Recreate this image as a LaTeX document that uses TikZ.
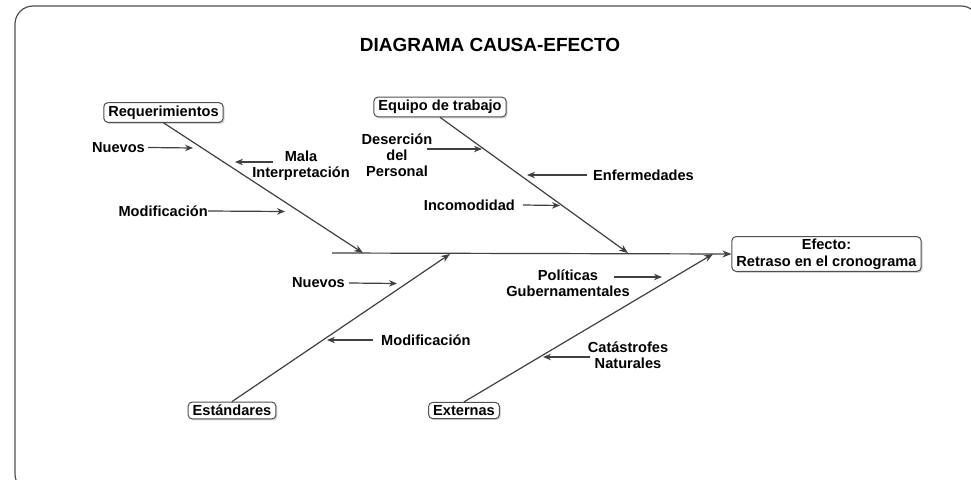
\documentclass[tikz,border=0pt]{standalone}
\usepackage{fontspec}
\setmainfont{Liberation Sans}
\usetikzlibrary{arrows.meta,shadows}
\definecolor{ln}{HTML}{404040}
\definecolor{bx}{HTML}{505050}
\tikzset{
  lbl/.style={font=\fontsize{14.6}{16}\selectfont\bfseries, inner sep=0pt, align=center},
  cat/.style={draw=bx, line width=1pt, rounded corners=4pt, fill=white,
    drop shadow={opacity=0.35, shadow xshift=1.5pt, shadow yshift=-1.5pt},
    font=\fontsize{14.6}{17}\selectfont\bfseries, inner xsep=4.5pt, inner ysep=3pt, align=center},
  bone/.style={draw=ln, line width=1.2pt, -{Stealth[length=9pt,width=7pt]}},
  sub/.style={draw=ln, line width=1.2pt, -{Stealth[length=8pt,width=6.5pt]}}
}
\begin{document}
\begin{tikzpicture}[x=1pt,y=-1pt]
\useasboundingbox (0,0) rectangle (971,479);
\begin{scope}
\clip (0,0) rectangle (971,479);
\draw[bx, line width=1.2pt, rounded corners=18pt] (15,6) rectangle (979,492);
\end{scope}

\node[font=\fontsize{19}{22}\selectfont\bfseries, inner sep=0pt] (title) at (490,45) {DIAGRAMA CAUSA-EFECTO};

% category boxes
\node[cat] (req) at (163.5,112.5) {Requerimientos};
\node[cat] (eq) at (440,107) {Equipo de trabajo};
\node[cat] (est) at (232,410.5) {Estándares};
\node[cat] (ext) at (464,410.5) {Externas};
\node[cat, inner ysep=2pt] (efe) at (826.5,254) {Efecto:\\Retraso en el cronograma};

% spine
\coordinate (sp0) at (332,253);
\draw[bone] (sp0) -- (efe.west);

% bones
\coordinate (b1) at (363,253);
\coordinate (b2) at (628,253);
\coordinate (b3) at (450,254);
\coordinate (b4) at (713,254);
\draw[bone] (req.south) -- (b1);
\draw[bone] (eq.south) -- (b2);
\draw[bone] (est.north) -- (b3);
\draw[bone] (ext.north) -- (b4);

% sub causes - Requerimientos
\node[lbl, anchor=east] (n1) at (145,147.5) {Nuevos};
\coordinate (n1t) at (193,148);
\draw[sub] ([xshift=3pt]n1.east) -- (n1t);

\node[lbl] (m1) at (301,166) {Mala\\Interpretación};
\coordinate (m1a) at (273,162);
\coordinate (m1t) at (235,162);
\draw[sub] (m1a) -- (m1t);

\node[lbl, anchor=east] (mod1) at (208,211) {Modificación};
\coordinate (mod1t) at (285,211.5);
\draw[sub] (mod1.east) -- (mod1t);

% Equipo de trabajo
\node[lbl] (d1) at (397,155) {Deserción\\del\\Personal};
\coordinate (d1a) at (427,149);
\coordinate (d1t) at (482,149);
\draw[sub] (d1a) -- (d1t);

\node[lbl, anchor=west] (e1) at (593,175) {Enfermedades};
\coordinate (e1t) at (527,175);
\draw[sub] ([xshift=-6pt]e1.west) -- (e1t);

\node[lbl, anchor=east] (i1) at (515,205) {Incomodidad};
\coordinate (i1t) at (560,205.5);
\draw[sub] ([xshift=8pt]i1.east) -- (i1t);

% Estándares
\node[lbl, anchor=east] (n2) at (345,283) {Nuevos};
\coordinate (n2t) at (397,283.5);
\draw[sub] ([xshift=4pt]n2.east) -- (n2t);

\node[lbl, anchor=west] (mod2) at (381,340) {Modificación};
\coordinate (mod2t) at (327,340);
\draw[sub] ([xshift=-8pt]mod2.west) -- (mod2t);

% Externas
\node[lbl] (p1) at (568,283) {Políticas\\Gubernamentales};
\coordinate (p1a) at (614,277);
\coordinate (p1t) at (662,277);
\draw[sub] (p1a) -- (p1t);

\node[lbl] (c1) at (628,355.5) {Catástrofes\\Naturales};
\coordinate (c1a) at (590,357);
\coordinate (c1t) at (543,357);
\draw[sub] (c1a) -- (c1t);
\end{tikzpicture}
\end{document}
